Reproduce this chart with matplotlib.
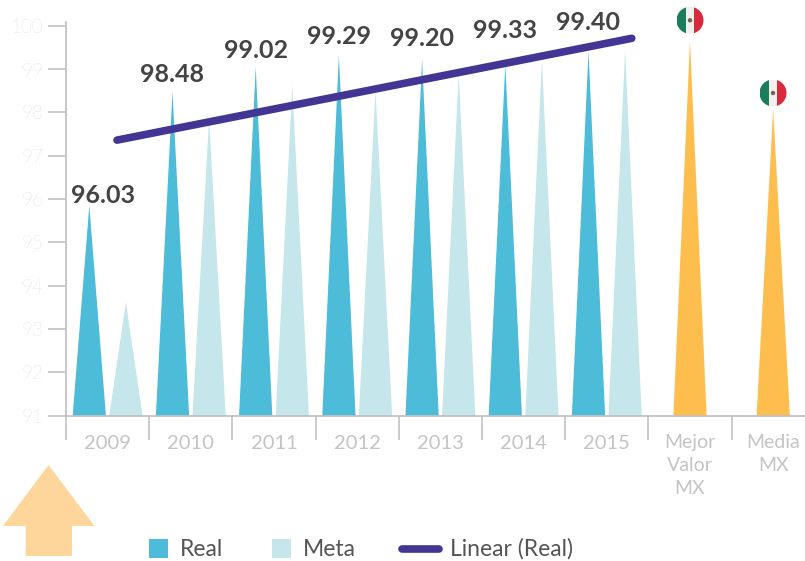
import matplotlib
matplotlib.use("Agg")
import matplotlib.pyplot as plt
from matplotlib.patches import Circle, Polygon, Rectangle

W = 805
H = 561
STEP = 83.2

years = ["2009", "2010", "2011", "2012", "2013", "2014", "2015"]
extra_names = ["Mejor\nValor\nMX", "Media\nMX"]
real = [95.85, 98.48, 99.05, 99.32, 99.22, 99.12, 99.42]
meta = [93.62, 97.85, 98.62, 98.5, 98.9, 99.2, 99.45]
extra = [99.65, 98.08]
real_labels = ["96.03", "98.48", "99.02", "99.29", "99.20", "99.33", "99.40"]
trend_x = [0.613, 6.80]
trend_y = [97.36, 99.71]
y_ticks = [91, 92, 93, 94, 95, 96, 97, 98, 99, 100]

# label centres relative to the real bar tip (pixels)
label_dx = [14, 0, 0, 0, 0, 0, 0]
label_y = [195, 75, 50, 36, 38, 31, 23]

plt.rcParams["font.family"] = ["Lato", "DejaVu Sans"]

REAL = "#4dbcd9"
META = "#c5e6eb"
GOLD = "#fdbe4e"
LINE = "#433594"
GRAY = "#bdbdbd"
TICK = "#c6c6c6"
DARK = "#444444"

fig = plt.figure(figsize=(W / 100, H / 100), dpi=100)
ax = fig.add_axes([66 / W, 1 - 415.7 / H, (W - 66) / W, (415.7 - 22) / H])
ax.set_xlim(0, (W - 66) / STEP)
ax.set_ylim(91, 91 + (415.7 - 22) / 43.33)


def spike(center, top, color):
    ax.add_patch(Polygon([(center - 0.2, 91), (center, top), (center + 0.2, 91)],
                         closed=True, facecolor=color, edgecolor="none"))


for i in range(len(years)):
    spike(i + 0.28, real[i], REAL)
    spike(i + 0.72, meta[i], META)
for i in range(len(extra)):
    spike(len(years) + i + 0.5, extra[i], GOLD)

ax.plot(trend_x, trend_y, color=LINE, lw=5.5, solid_capstyle="round", zorder=5)

for i in range(len(years)):
    x_px = 66 + STEP * (i + 0.28) + label_dx[i]
    fig.text(x_px / W, 1 - label_y[i] / H, real_labels[i], ha="center", va="center",
             fontsize=18, fontweight="bold", color=DARK)

for s in ["top", "right"]:
    ax.spines[s].set_visible(False)
for s in ["left", "bottom"]:
    ax.spines[s].set_color(GRAY)
    ax.spines[s].set_linewidth(1.2)

ax.set_yticks(y_ticks)
ax.tick_params(axis="y", length=13, width=1.1, color=GRAY, labelcolor=TICK, labelsize=13.5, pad=3.5)
ax.set_xticks(range(len(years) + len(extra)))
ax.set_xticklabels([])
ax.tick_params(axis="x", length=17, width=1.1, color=GRAY)
for lab in ax.get_yticklabels():
    lab.set_fontweight("light")

# overlay in pixel coordinates for labels, flags, arrow and legend
over = fig.add_axes([0, 0, 1, 1])
over.set_xlim(0, W)
over.set_ylim(H, 0)
over.axis("off")
over.patch.set_alpha(0)

for i, name in enumerate(years):
    over.text(66 + STEP * (i + 0.5), 443.5, name, ha="center", va="center", fontsize=14.5, color="#c4c4c4")
for i, name in enumerate(extra_names):
    over.text(66 + STEP * (len(years) + i + 0.5), 434, name, ha="center", va="top", fontsize=14,
              color="#c4c4c4", linespacing=1.42)


def flag(cx, cy, r=13.5):
    clip = Circle((cx, cy), r, transform=over.transData)
    parts = [(cx - r, 0.7 * r, "#1b7c5e"), (cx - 0.3 * r, 0.6 * r, "#f2f0ee"), (cx + 0.3 * r, 0.7 * r, "#d9293c")]
    for x0, w, c in parts:
        p = Rectangle((x0, cy - r), w, 2 * r, facecolor=c, edgecolor="none")
        over.add_patch(p)
        p.set_clip_path(clip)
    over.add_patch(Circle((cx, cy), 2.2, facecolor="#7a6048", edgecolor="none"))


flag(690, 20.3)
flag(773, 93)

over.add_patch(Polygon([(48.5, 465), (94.5, 526), (72, 526), (72, 556), (25.7, 556), (25.7, 526), (3, 526)],
                       closed=True, facecolor="#fed69b", edgecolor="none"))

over.add_patch(Rectangle((149, 539), 19, 19, facecolor=REAL, edgecolor="none"))
over.add_patch(Rectangle((272, 539), 19, 19, facecolor=META, edgecolor="none"))
over.plot([402, 439], [548.7, 548.7], color=LINE, lw=5.5, solid_capstyle="round")
for x0, name in [(180, "Real"), (303, "Meta"), (450, "Linear (Real)")]:
    over.text(x0, 549, name, ha="left", va="center", fontsize=16.5, color="#555555")

fig.savefig("out.png", dpi=100)
